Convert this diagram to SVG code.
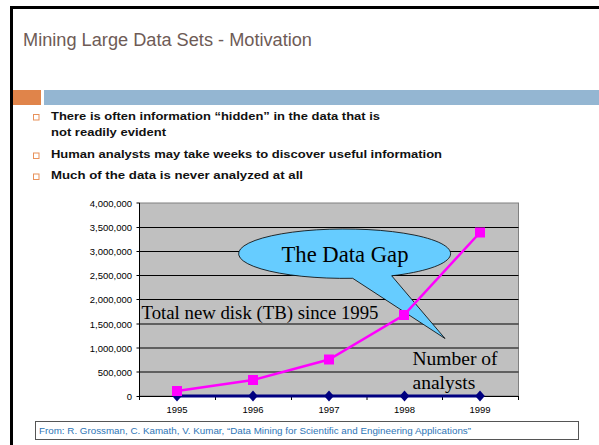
<svg xmlns="http://www.w3.org/2000/svg" width="599" height="445" viewBox="0 0 599 445">
<style>
.title{font-family:"Liberation Sans",Arial,sans-serif;font-size:17.5px;fill:#6E5B56}
.bul{font-family:"Liberation Sans",Arial,sans-serif;font-size:11px;font-weight:bold;fill:#111}
.ax{font-family:"Liberation Sans",Arial,sans-serif;font-size:9.5px;fill:#000}
.ser{font-family:"Liberation Serif","Times New Roman",serif;fill:#000}
.grid{stroke:#000;stroke-width:1}
.foot{font-family:"Liberation Sans",Arial,sans-serif;font-size:8.6px;fill:#2E75B6}
</style>
<defs>
<rect id="sq" x="-5" y="-5" width="10" height="10" fill="#FF00FF"/>
<path id="dm" d="M0,-5.5 L4.8,0 L0,5.5 L-4.8,0 Z" fill="#000080"/>
<rect id="bx" width="5.5" height="5.5" fill="none" stroke="#E8915A" stroke-width="1"/>
</defs>
<rect width="599" height="445" fill="#fff"/>
<g id="frame"><path d="M11.5,445 V7.5 H599" fill="none" stroke="#000" stroke-width="3"/></g>
<g id="header">
<text class="title" x="23" y="46" textLength="289" lengthAdjust="spacingAndGlyphs">Mining Large Data Sets - Motivation</text>
<rect x="13" y="90" width="28" height="15" fill="#E0844A"/>
<rect x="44" y="90" width="555" height="15" fill="#94B6D2"/>
</g>
<g id="bullets">
<use href="#bx" x="33.5" y="114.5"/>
<text class="bul" x="51" y="120" textLength="329" lengthAdjust="spacingAndGlyphs">There is often information “hidden” in the data that is</text>
<text class="bul" x="51" y="135.5" textLength="115" lengthAdjust="spacingAndGlyphs">not readily evident</text>
<use href="#bx" x="33.5" y="153"/>
<text class="bul" x="51" y="158" textLength="391" lengthAdjust="spacingAndGlyphs">Human analysts may take weeks to discover useful information</text>
<use href="#bx" x="33.5" y="174"/>
<text class="bul" x="51" y="179" textLength="252" lengthAdjust="spacingAndGlyphs">Much of the data is never analyzed at all</text>
</g>
<g id="chart">
<rect x="139.5" y="203" width="379" height="193" fill="#C0C0C0" stroke="#808080" stroke-width="1"/>
<g id="gridlines">
<line class="grid" x1="139.5" y1="227.5" x2="518.5" y2="227.5"/>
<line class="grid" x1="139.5" y1="251.5" x2="518.5" y2="251.5"/>
<line class="grid" x1="139.5" y1="275.5" x2="518.5" y2="275.5"/>
<line class="grid" x1="139.5" y1="299.5" x2="518.5" y2="299.5"/>
<line class="grid" x1="139.5" y1="324" x2="518.5" y2="324"/>
<line class="grid" x1="139.5" y1="348" x2="518.5" y2="348"/>
<line class="grid" x1="139.5" y1="372" x2="518.5" y2="372"/>
</g>
<g id="axes" stroke="#000" stroke-width="1">
<line x1="139.5" y1="203" x2="139.5" y2="396"/>
<line x1="139.5" y1="396.5" x2="518.5" y2="396.5"/>
<path d="M136.5,203H139.5M136.5,227.5H139.5M136.5,251.5H139.5M136.5,275.5H139.5M136.5,299.5H139.5M136.5,324H139.5M136.5,348H139.5M136.5,372H139.5M136.5,396.5H139.5"/>
<path d="M139.5,396V400M215.5,396V400M291.5,396V400M367,396V400M442.5,396V400M518.5,396V400"/>
</g>
<g id="ylabels" class="ax" text-anchor="end">
<text x="132" y="206.5">4,000,000</text>
<text x="132" y="230.8">3,500,000</text>
<text x="132" y="255">3,000,000</text>
<text x="132" y="279">2,500,000</text>
<text x="132" y="303">2,000,000</text>
<text x="132" y="327.5">1,500,000</text>
<text x="132" y="351.5">1,000,000</text>
<text x="132" y="375.5">500,000</text>
<text x="132" y="399.5">0</text>
</g>
<g id="xlabels" class="ax" text-anchor="middle">
<text x="177" y="413">1995</text>
<text x="253" y="413">1996</text>
<text x="329" y="413">1997</text>
<text x="404.5" y="413">1998</text>
<text x="480" y="413">1999</text>
</g>
<g id="callout">
<path d="M352.7,278.3 A106,24.7 0 1 1 391.7,275.8 L445,338.5 Z" fill="#66CCFF" stroke="#000" stroke-width="0.8" stroke-linejoin="miter"/>
<text class="ser" x="281.5" y="261.5" font-size="22.5px" textLength="127" lengthAdjust="spacingAndGlyphs">The Data Gap</text>
</g>
<g id="connectors">
<polyline points="177,396 253,396 329,396 404.5,396 480,396" fill="none" stroke="#000080" stroke-width="3"/>
<polyline points="177,391 253,380 329,359.5 404,315 480,232.5" fill="none" stroke="#FF00FF" stroke-width="2.5"/>
</g>
<g id="markers">
<use href="#dm" x="177" y="396"/>
<use href="#dm" x="253" y="396"/>
<use href="#dm" x="329" y="396"/>
<use href="#dm" x="404.5" y="396"/>
<use href="#dm" x="480" y="396"/>
<use href="#sq" x="177" y="391"/>
<use href="#sq" x="253" y="380"/>
<use href="#sq" x="329" y="359.5"/>
<use href="#sq" x="404" y="315"/>
<use href="#sq" x="480" y="232.5"/>
</g>
<g id="series-labels">
<text class="ser" x="141.5" y="319" font-size="18.7px" textLength="237" lengthAdjust="spacingAndGlyphs">Total new disk (TB) since 1995</text>
<text class="ser" x="412.5" y="365" font-size="19.5px" textLength="85" lengthAdjust="spacingAndGlyphs">Number of</text>
<text class="ser" x="412.5" y="388.5" font-size="19.5px">analysts</text>
</g>
</g>
<g id="footer">
<rect x="35.5" y="421.5" width="543" height="18" fill="#fff" stroke="#555" stroke-width="1"/>
<text class="foot" x="39" y="433.5" textLength="432" lengthAdjust="spacingAndGlyphs">From: R. Grossman, C. Kamath, V. Kumar, “Data Mining for Scientific and Engineering Applications”</text>
</g>
</svg>
